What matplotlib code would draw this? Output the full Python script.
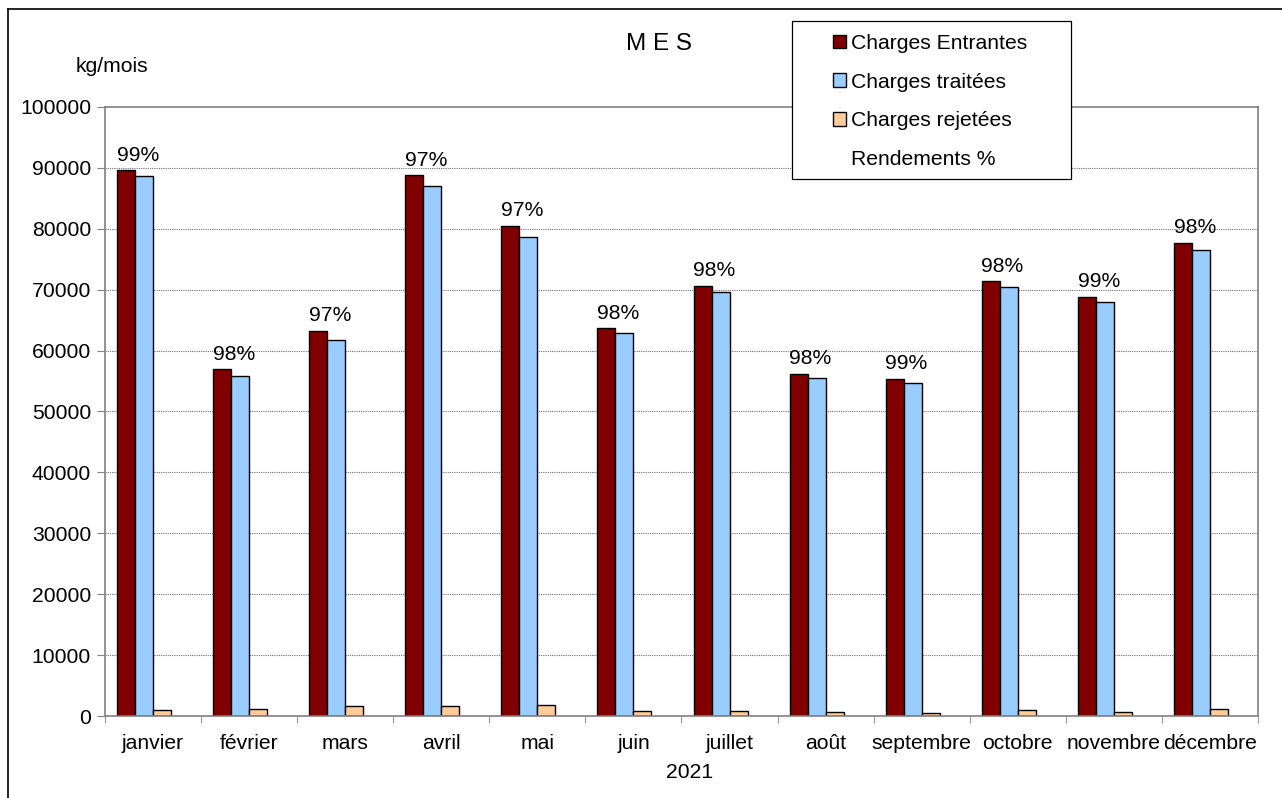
import numpy as np
import matplotlib
matplotlib.use('Agg')
import matplotlib.pyplot as plt
from matplotlib.patches import Patch, Rectangle
from matplotlib.lines import Line2D

plt.rcParams['font.family'] = ['Liberation Sans', 'DejaVu Sans']

mois = ['janvier', 'février', 'mars', 'avril', 'mai', 'juin', 'juillet',
        'août', 'septembre', 'octobre', 'novembre', 'décembre']
entrantes = [89600, 56900, 63300, 88800, 80500, 63700, 70600, 56200, 55400, 71400, 68800, 77700]
traitees = [88700, 55800, 61800, 87100, 78600, 62900, 69700, 55500, 54700, 70500, 67900, 76500]
rejetees = [1000, 1200, 1600, 1600, 1850, 850, 900, 700, 550, 1000, 700, 1100]
rendements = [99, 98, 97, 97, 97, 98, 98, 98, 99, 98, 99, 98]

FS = 15.2
W, H = 1282, 798

fig = plt.figure(figsize=(W / 100, H / 100), dpi=100)
ax = fig.add_axes([105 / W, 1 - 716 / H, 1153 / W, 609 / H])

x = np.arange(len(mois))
w = 0.1875
edge = dict(edgecolor='black', linewidth=1.0)
b1 = ax.bar(x - 1.5 * w, entrantes, w, color='#800000', **edge)
b2 = ax.bar(x - 0.5 * w, traitees, w, color='#99CCFF', **edge)
b3 = ax.bar(x + 0.5 * w, rejetees, w, color='#FFCC99', **edge)

# rendements au-dessus des barres
for i in range(len(mois)):
    ax.annotate(f'{rendements[i]}%', (x[i] - w, entrantes[i]), xytext=(2, 4),
                textcoords='offset points', ha='center', va='bottom', fontsize=FS)

ax.set_xlim(-0.5, len(mois) - 0.5)
ax.set_ylim(0, 100000)
ax.set_yticks(np.arange(0, 100001, 10000))
ax.set_yticklabels([str(v) for v in range(0, 100001, 10000)], fontsize=FS)
ax.set_xticks(x)
ax.set_xticklabels(mois, fontsize=FS)
ax.set_xticks(np.arange(-0.5, len(mois)), minor=True)
ax.tick_params(axis='x', which='major', length=0, pad=13)
ax.tick_params(axis='x', which='minor', length=5, color='#808080', direction='out')
ax.tick_params(axis='y', length=6, color='#808080', direction='out', pad=4)

for v in range(10000, 100000, 10000):
    ax.axhline(v, color='#707070', linestyle=(0, (1, 1)), linewidth=0.8, zorder=0)
for s in ax.spines.values():
    s.set_color('#808080')
    s.set_linewidth(1.2)

fig.text(112 / W, 1 - 67 / H, 'kg/mois', ha='center', va='center', fontsize=FS)
fig.text(659 / W, 1 - 44 / H, 'M E S', ha='center', va='center', fontsize=17.5)
fig.text(690 / W, 1 - 773 / H, '2021', ha='center', va='center', fontsize=FS)

# légende avec son cadre
fig.add_artist(Rectangle((792 / W, 1 - 179 / H), 279 / W, 158 / H, transform=fig.transFigure,
                         facecolor='white', edgecolor='black', linewidth=0.9, zorder=5))
handles = [b1, b2, b3, Patch(facecolor='none', edgecolor='none')]
labels = ['Charges Entrantes', 'Charges traitées', 'Charges rejetées', 'Rendements %']
leg = fig.legend(handles, labels, loc='upper left', bbox_to_anchor=(833 / W, 1 - 34 / H),
                 fontsize=FS, frameon=False, handlelength=0.6, handleheight=0.6,
                 handletextpad=0.25, labelspacing=0.93, borderpad=0, borderaxespad=0)
leg.set_zorder(6)

# cadre extérieur
fig.add_artist(Line2D([7.5 / W, 7.5 / W], [0, 1 - 8.5 / H], color='black', linewidth=1.2))
fig.add_artist(Line2D([7.5 / W, 1], [1 - 8.5 / H, 1 - 8.5 / H], color='black', linewidth=1.2))

fig.savefig('out.png', dpi=100)
